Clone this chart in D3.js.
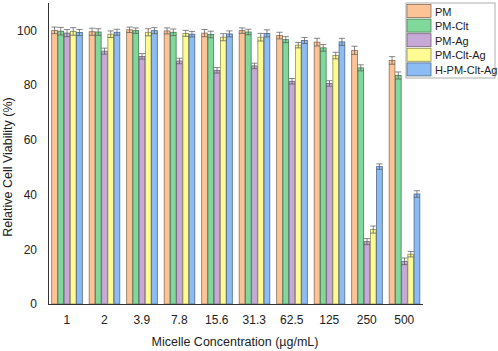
<!DOCTYPE html>
<html>
<head>
<style>
  body { margin: 0; background: #fff; }
  text { font-family: "Liberation Sans", Arial, sans-serif; }
</style>
</head>
<body>
<script src="https://cdn.jsdelivr.net/npm/d3@7"></script>
<script>
// concentrations (x categories)
var concentrations = ["1", "2", "3.9", "7.8", "15.6", "31.3", "62.5", "125", "250", "500"];
var seriesNames = ["PM", "PM-Clt", "PM-Ag", "PM-Clt-Ag", "H-PM-Clt-Ag"];
var seriesColors = ["#fcc496", "#80d99b", "#c7a9d8", "#fdfb92", "#8cbcf3"];

// mean viability per series
var pm        = [100, 99.5, 100.2, 99.8, 99, 99.9, 98.1, 95.7, 92.7, 89];
var pmClt     = [99.7, 99.4, 99.9, 99.3, 98.5, 99.4, 96.6, 93.6, 86.3, 83.5];
var pmAg      = [99, 92.4, 90.5, 88.8, 85.4, 87, 81.4, 80.6, 22.8, 15.6];
var pmCltAg   = [99.6, 98.6, 99.3, 98.9, 97.5, 97.5, 94.6, 90.8, 27.2, 18.2];
var hPmCltAg  = [99.2, 99.3, 99.9, 98.6, 98.7, 98.9, 96.3, 95.8, 50.2, 40.2];
// standard deviations
var pmErr       = [1.2, 1.3, 1.0, 1.1, 1.3, 1.0, 1.2, 1.4, 1.5, 1.4];
var pmCltErr    = [1.4, 1.2, 1.0, 1.2, 1.2, 1.0, 1.1, 1.2, 1.1, 1.3];
var pmAgErr     = [1.3, 1.1, 1.0, 1.0, 1.0, 1.0, 1.0, 1.0, 1.1, 1.2];
var pmCltAgErr  = [1.4, 1.2, 1.3, 1.1, 1.3, 1.4, 1.0, 1.2, 1.3, 1.0];
var hPmCltAgErr = [1.1, 1.1, 1.1, 1.0, 1.1, 1.3, 1.1, 1.3, 1.0, 1.2];
var yTicks = [0, 20, 40, 60, 80, 100];

var values = [pm, pmClt, pmAg, pmCltAg, hPmCltAg];
var errors = [pmErr, pmCltErr, pmAgErr, pmCltAgErr, hPmCltAgErr];

var width = 498, height = 351;
var svg = d3.select("body").append("svg")
    .attr("width", width)
    .attr("height", height);

var x = d3.scaleBand().domain(concentrations).range([48, 423]).paddingInner(0.17).paddingOuter(0.085);
var xs = d3.scaleBand().domain(seriesNames).range([0, x.bandwidth()]);
var y = d3.scaleLinear().domain([0, 110]).range([304, 3]);

var data = [];
concentrations.forEach(function (c, i) {
    seriesNames.forEach(function (s, j) {
        data.push({ conc: c, series: s, idx: j, value: values[j][i], err: errors[j][i] });
    });
});

var g = svg.append("g");
var bars = g.selectAll("g.bar").data(data).enter().append("g").attr("class", "bar")
    .attr("transform", function (d) { return "translate(" + (x(d.conc) + xs(d.series)) + ",0)"; });

bars.append("rect")
    .attr("x", 0.5)
    .attr("y", function (d) { return y(d.value); })
    .attr("width", xs.bandwidth() - 0.5)
    .attr("height", function (d) { return y(0) - y(d.value); })
    .attr("fill", function (d) { return seriesColors[d.idx]; })
    .attr("stroke", function (d) { return d3.color(seriesColors[d.idx]).darker(1.6); })
    .attr("stroke-width", 0.8);

// error bars
var cw = xs.bandwidth() * 0.5;
bars.append("line")
    .attr("x1", xs.bandwidth() / 2 + 0.25).attr("x2", xs.bandwidth() / 2 + 0.25)
    .attr("y1", function (d) { return y(d.value + d.err); })
    .attr("y2", function (d) { return y(d.value - d.err); })
    .attr("stroke", "#555").attr("stroke-width", 0.7);
bars.selectAll("line.cap")
    .data(function (d) { return [d.value + d.err, d.value - d.err]; })
    .enter().append("line").attr("class", "cap")
    .attr("x1", xs.bandwidth() / 2 + 0.25 - cw).attr("x2", xs.bandwidth() / 2 + 0.25 + cw)
    .attr("y1", function (v) { return y(v); })
    .attr("y2", function (v) { return y(v); })
    .attr("stroke", "#555").attr("stroke-width", 0.7);

// axes
var xAxis = svg.append("g").attr("transform", "translate(0," + y(0) + ")")
    .call(d3.axisBottom(x).tickSize(0).tickPadding(11));
xAxis.select(".domain").attr("stroke", "#333").attr("d", "M48,0.5H423");
xAxis.selectAll("text").attr("font-size", 12).attr("fill", "#222")
    .style("font-family", "'Liberation Sans', Arial, sans-serif");

var yAxis = svg.append("g").attr("transform", "translate(48,0)")
    .call(d3.axisLeft(y).tickValues(yTicks).tickSize(0).tickPadding(11));
yAxis.select(".domain").attr("stroke", "#333").attr("d", "M0.5,3V304.5");
yAxis.selectAll("text").attr("font-size", 12).attr("fill", "#222")
    .style("font-family", "'Liberation Sans', Arial, sans-serif");

svg.append("text")
    .attr("x", 235).attr("y", 346)
    .attr("text-anchor", "middle").attr("font-size", 12.5).attr("fill", "#222")
    .text("Micelle Concentration (\u00b5g/mL)");
svg.append("text")
    .attr("transform", "translate(12,167) rotate(-90)")
    .attr("text-anchor", "middle").attr("font-size", 12.5).attr("fill", "#222")
    .text("Relative Cell Viability (%)");

// legend
var lg = svg.append("g").attr("transform", "translate(406,3)");
lg.append("rect").attr("x", 0).attr("y", 0).attr("width", 89).attr("height", 75)
    .attr("fill", "#fff").attr("stroke", "#999").attr("stroke-width", 0.8);
var items = lg.selectAll("g.item").data(seriesNames).enter().append("g")
    .attr("transform", function (d, i) { return "translate(1," + (1.5 + i * 14.6) + ")"; });
items.append("rect").attr("width", 24).attr("height", 13)
    .attr("fill", function (d, i) { return seriesColors[i]; })
    .attr("stroke", function (d, i) { return d3.color(seriesColors[i]).darker(1.6); })
    .attr("stroke-width", 0.8);
items.append("text").attr("x", 28).attr("y", 11).attr("font-size", 11).attr("fill", "#222")
    .text(function (d) { return d; });
</script>
</body>
</html>
